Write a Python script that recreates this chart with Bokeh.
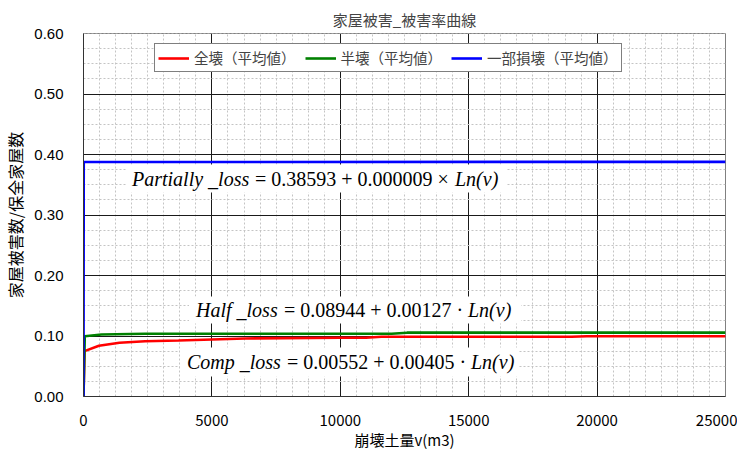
from bokeh.plotting import figure
from bokeh.models import Range1d, FixedTicker, NumeralTickFormatter, Label, BoxAnnotation
from bokeh.embed import file_html
from bokeh.resources import INLINE

# ---- data ----
title_text = "家屋被害_被害率曲線"
x_label = "崩壊土量v(m3)"
y_label = "家屋被害数/保全家屋数"

x_ticks = [0, 5000, 10000, 15000, 20000, 25000]
y_ticks = [0.0, 0.1, 0.2, 0.3, 0.4, 0.5, 0.6]

comp_name = "全壊（平均値）"
comp_v = [0, 40, 600, 1400, 2400, 3700, 5000, 6300, 10000, 11000, 11600, 19000, 19600, 25000]
comp_y = [0, 0.075, 0.084, 0.0888, 0.0914, 0.0926, 0.0942, 0.0959, 0.097, 0.097, 0.0987, 0.0987, 0.0997, 0.0997]

half_name = "半壊（平均値）"
half_v = [0, 50, 700, 2400, 12000, 12600, 25000]
half_y = [0, 0.0995, 0.1025, 0.1036, 0.1038, 0.1055, 0.1055]

part_name = "一部損壊（平均値）"
part_v = [0, 10, 25000]
part_y = [0, 0.3876, 0.3878]

# ---- layout helpers (page pixel -> data coords for annotations) ----
FL, FR, FT, FB = 84.5, 726.5, 34.0, 397.0
def sx(px):
    return (px - FL) / (FR - FL) * 25000
def sy(py):
    return (FB - py) / (FB - FT) * 0.6

CJK = "Noto Sans CJK JP"

p = figure(frame_width=642, frame_height=363,
           x_range=Range1d(0, 25000), y_range=Range1d(0, 0.6),
           output_backend="svg", toolbar_location=None,
           min_border_left=77, min_border_right=12, min_border_top=33, min_border_bottom=40)
p.background_fill_color = "white"
p.border_fill_color = "white"
p.outline_line_color = "#808080"
p.outline_line_width = 1

p.title.text = title_text
p.title.align = "center"
p.title.vertical_align = "top"
p.title.text_font = CJK
p.title.text_font_size = "15px"
p.title.text_font_style = "normal"
p.title.standoff = 4

xt = FixedTicker(ticks=x_ticks, minor_ticks=[i * 625 for i in range(41)])
yt = FixedTicker(ticks=y_ticks, minor_ticks=[i * 0.025 for i in range(25)])
p.xaxis.ticker = xt
p.xgrid.ticker = xt
p.yaxis.ticker = yt
p.ygrid.ticker = yt
p.yaxis.formatter = NumeralTickFormatter(format="0.00")

for ax in (p.xaxis, p.yaxis):
    ax.major_tick_out = 0
    ax.major_tick_in = 0
    ax.minor_tick_out = 0
    ax.minor_tick_in = 0
    ax.axis_line_color = "#333333"
    ax.major_label_text_color = "black"
    ax.axis_label_text_color = "black"
    ax.axis_label_text_font_style = "normal"

p.xaxis.axis_label = x_label
p.xaxis.axis_label_text_font = CJK
p.xaxis.axis_label_text_font_size = "15px"
p.xaxis.major_label_text_font = CJK
p.xaxis.major_label_text_font_size = "15px"
p.xaxis.major_label_standoff = 18
p.xaxis.axis_label_standoff = 0

p.yaxis.axis_label = y_label
p.yaxis.axis_label_text_font = CJK
p.yaxis.axis_label_text_font_size = "16px"
p.yaxis.major_label_text_font = "Liberation Sans"
p.yaxis.major_label_text_font_size = "15px"
p.yaxis.major_label_standoff = 20
p.yaxis.axis_label_standoff = 4

for g in (p.xgrid, p.ygrid):
    g.grid_line_color = "#1a1a1a"
    g.grid_line_width = 1
    g.grid_line_alpha = 1
    g.minor_grid_line_color = "#c4c4c4"
    g.minor_grid_line_dash = "2 2"
    g.minor_grid_line_width = 1

p.line(comp_v, comp_y, line_color="#ff0000", line_width=2.6, legend_label=comp_name)
p.line(half_v, half_y, line_color="#008000", line_width=2.6, legend_label=half_name)
p.line(part_v, part_y, line_color="#0000ff", line_width=2.6, legend_label=part_name)

lg = p.legend[0]
lg.orientation = "horizontal"
lg.location = (71, 324)
lg.label_text_font = CJK
lg.label_text_font_size = "14.5px"
lg.glyph_width = 31
lg.glyph_height = 16
lg.label_height = 16
lg.label_standoff = 5
lg.spacing = 9
lg.padding = 3
lg.margin = 0
lg.border_line_color = "black"
lg.border_line_width = 1
lg.background_fill_color = "white"
lg.background_fill_alpha = 1

# equation boxes and texts
boxes = [(127, 507, 165, 193), (190, 522, 297, 324), (181, 520, 348, 377)]
for l, r, t, b in boxes:
    p.add_layout(BoxAnnotation(left=sx(l), right=sx(r), top=sy(t), bottom=sy(b),
                               fill_color="white", fill_alpha=1, line_alpha=0))

SERIF = "Liberation Serif"
EQ_SIZE = "20px"
eqs = [
    ("Partially _loss", 133, "= 0.38593 + 0.000009 ×", 256, "Ln(v)", 456, 179),
    ("Half _loss", 197, "= 0.08944 + 0.00127 ·", 285, "Ln(v)", 469, 310),
    ("Comp _loss", 188, "= 0.00552 + 0.00405 ·", 288, "Ln(v)", 472, 362),
]
for name, nx, mid, mx, tail, tx, by in eqs:
    for txt, xx, style in ((name, nx, "italic"), (mid, mx, "normal"), (tail, tx, "italic")):
        p.add_layout(Label(x=sx(xx), y=sy(by), text=txt, text_font=SERIF, text_font_style=style,
                           text_font_size=EQ_SIZE, text_align="left", text_baseline="alphabetic",
                           text_color="black"))

open("out.html", "w").write(file_html(p, INLINE))
